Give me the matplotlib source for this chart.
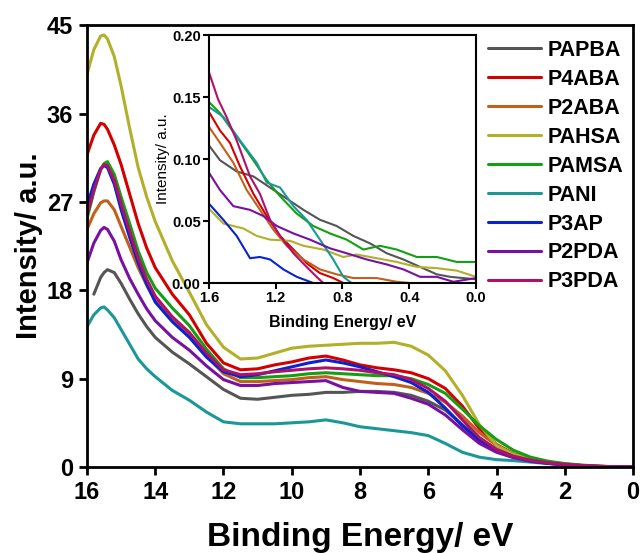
import numpy as np
import matplotlib
matplotlib.use("Agg")
import matplotlib.pyplot as plt

plt.rcParams['font.family'] = ['Liberation Sans', 'DejaVu Sans']

# ---------------- main data ----------------
energy = [16, 15.8, 15.6, 15.5, 15.4, 15.2, 15.0, 14.75, 14.5, 14.25, 14.0, 13.5, 13.0,
          12.5, 12.0, 11.5, 11.0, 10.5, 10.0, 9.5, 9.0, 8.5, 8.0, 7.5, 7.0, 6.5, 6.0,
          5.5, 5.0, 4.5, 4.0, 3.5, 3.0, 2.5, 2.0, 1.5, 1.0, 0.5, 0.0]

papba = [np.nan, 17.6, 19.3, 19.8, 20.1, 19.8, 18.7, 17.1, 15.6, 14.3, 13.2, 11.7, 10.5,
         9.2, 7.9, 7.0, 6.9, 7.1, 7.3, 7.4, 7.6, 7.6, 7.7, 7.7, 7.6, 7.3, 6.7,
         5.8, 4.3, 2.9, 1.8, 1.1, 0.7, 0.45, 0.27, 0.15, 0.07, 0.02, 0.0]
p4aba = [31.8, 33.8, 35.0, 34.9, 34.4, 32.8, 30.8, 27.8, 24.8, 22.3, 20.3, 17.6, 15.5,
         12.6, 10.6, 9.9, 10.0, 10.4, 10.7, 11.1, 11.3, 10.9, 10.4, 10.1, 9.9, 9.6, 9.0,
         8.0, 6.2, 3.9, 2.3, 1.35, 0.8, 0.5, 0.3, 0.15, 0.07, 0.02, 0.0]
p2aba = [24.2, 25.8, 26.9, 27.1, 27.1, 26.2, 24.5, 22.4, 20.3, 18.5, 17.0, 15.0, 13.5,
         11.3, 9.5, 8.7, 8.7, 8.8, 8.9, 9.1, 9.2, 8.9, 8.7, 8.5, 8.4, 8.1, 7.5,
         6.6, 5.2, 3.5, 2.2, 1.3, 0.8, 0.5, 0.3, 0.15, 0.07, 0.02, 0.0]
pahsa = [40.0, 42.5, 43.9, 44.0, 43.6, 41.8, 38.8, 34.5, 30.5, 27.5, 25.0, 21.0, 17.8,
         14.5, 12.2, 11.0, 11.1, 11.6, 12.1, 12.3, 12.4, 12.5, 12.6, 12.6, 12.7, 12.3, 11.4,
         9.8, 7.3, 4.3, 2.2, 1.3, 0.75, 0.45, 0.25, 0.12, 0.06, 0.02, 0.0]
pamsa = [25.3, 28.0, 30.3, 30.9, 31.1, 29.8, 27.5, 24.8, 22.0, 19.8, 18.2, 16.2, 14.4,
         12.0, 10.0, 9.1, 9.1, 9.2, 9.3, 9.5, 9.6, 9.5, 9.4, 9.3, 9.3, 9.0, 8.4,
         7.5, 5.9, 4.2, 2.8, 1.7, 1.0, 0.6, 0.35, 0.2, 0.08, 0.03, 0.01]
pani = [14.3, 15.5, 16.2, 16.3, 16.0, 15.2, 14.0, 12.5, 11.0, 10.0, 9.2, 7.8, 6.8,
        5.6, 4.6, 4.4, 4.4, 4.4, 4.5, 4.6, 4.8, 4.5, 4.1, 3.9, 3.7, 3.5, 3.2,
        2.4, 1.5, 1.0, 0.75, 0.65, 0.5, 0.35, 0.22, 0.12, 0.06, 0.02, 0.0]
p3ap = [26.6, 28.8, 30.4, 30.7, 30.5, 28.8, 26.2, 23.4, 20.8, 18.6, 16.8, 14.8, 13.2,
        11.2, 9.7, 9.2, 9.4, 9.8, 10.2, 10.6, 10.9, 10.6, 10.2, 9.7, 9.2, 8.6, 7.6,
        6.0, 4.2, 2.7, 1.6, 1.0, 0.6, 0.38, 0.22, 0.12, 0.05, 0.01, 0.0]
p2pda = [20.8, 22.8, 24.1, 24.4, 24.2, 23.0, 21.1, 19.2, 17.6, 16.1, 14.9, 13.2, 11.9,
         10.3, 8.9, 8.3, 8.3, 8.5, 8.6, 8.7, 8.8, 8.1, 7.7, 7.6, 7.5, 7.0, 6.4,
         5.3, 3.8, 2.4, 1.5, 0.95, 0.6, 0.38, 0.22, 0.12, 0.05, 0.01, 0.0]
p3pda = [25.6, 28.2, 30.3, 30.8, 30.7, 29.2, 26.8, 24.0, 21.3, 19.1, 17.4, 15.3, 13.7,
         11.6, 9.9, 9.4, 9.5, 9.7, 9.85, 10.0, 10.1, 10.0, 9.85, 9.6, 9.4, 8.9, 8.0,
         6.7, 4.8, 3.0, 1.8, 1.1, 0.7, 0.45, 0.27, 0.15, 0.07, 0.03, 0.01]

labels = ["PAPBA", "P4ABA", "P2ABA", "PAHSA", "PAMSA", "PANI", "P3AP", "P2PDA", "P3PDA"]
colors = ["#555555", "#d40000", "#c0601a", "#b2b02a", "#12a012", "#1a9898", "#0a22d0", "#7810a0", "#b0106c"]
main_series = [papba, p4aba, p2aba, pahsa, pamsa, pani, p3ap, p2pda, p3pda]

# ---------------- inset data (Binding energy, intensity) ----------------
ins_papba_x = [1.6, 1.534, 1.434, 1.334, 1.234, 1.134, 1.034, 0.935, 0.835, 0.735, 0.635, 0.535, 0.435, 0.335, 0.235, 0.155, 0.0]
ins_papba_y = [0.111, 0.099, 0.090, 0.086, 0.077, 0.068, 0.059, 0.051, 0.046, 0.038, 0.032, 0.024, 0.019, 0.013, 0.007, 0.005, 0.003]
ins_p4aba_x = [1.6, 1.534, 1.474, 1.414, 1.334, 1.254, 1.174, 1.094, 1.015, 0.935, 0.855, 0.795]
ins_p4aba_y = [0.138, 0.123, 0.113, 0.094, 0.072, 0.054, 0.038, 0.027, 0.016, 0.008, 0.004, 0.0]
ins_p2aba_x = [1.6, 1.534, 1.454, 1.374, 1.294, 1.214, 1.134, 1.034, 0.935, 0.835, 0.735, 0.595, 0.475, 0.395]
ins_p2aba_y = [0.126, 0.113, 0.097, 0.075, 0.059, 0.043, 0.030, 0.019, 0.011, 0.007, 0.004, 0.004, 0.001, 0.0]
ins_pahsa_x = [1.6, 1.514, 1.394, 1.314, 1.234, 1.114, 1.034, 0.915, 0.795, 0.715, 0.595, 0.475, 0.355, 0.235, 0.115, 0.0]
ins_pahsa_y = [0.060, 0.048, 0.044, 0.038, 0.035, 0.034, 0.030, 0.027, 0.021, 0.023, 0.020, 0.017, 0.013, 0.012, 0.010, 0.005]
ins_pamsa_x = [1.6, 1.534, 1.434, 1.334, 1.254, 1.174, 1.074, 0.975, 0.875, 0.775, 0.675, 0.575, 0.475, 0.355, 0.235, 0.115, 0.0]
ins_pamsa_y = [0.146, 0.137, 0.118, 0.099, 0.083, 0.070, 0.056, 0.046, 0.040, 0.035, 0.027, 0.030, 0.027, 0.021, 0.021, 0.017, 0.017]
ins_pani_x = [1.6, 1.514, 1.414, 1.314, 1.254, 1.174, 1.094, 1.015, 0.935, 0.855, 0.795, 0.745]
ins_pani_y = [0.142, 0.134, 0.115, 0.097, 0.081, 0.077, 0.062, 0.051, 0.035, 0.019, 0.005, 0.0]
ins_p3ap_x = [1.6, 1.514, 1.434, 1.354, 1.295, 1.234, 1.154, 1.074, 0.995, 0.975]
ins_p3ap_y = [0.064, 0.051, 0.038, 0.020, 0.021, 0.019, 0.011, 0.005, 0.001, 0.0]
ins_p2pda_x = [1.6, 1.534, 1.454, 1.354, 1.274, 1.194, 1.094, 0.995, 0.875, 0.775, 0.655, 0.535, 0.435, 0.335, 0.235, 0.135, 0.0]
ins_p2pda_y = [0.089, 0.075, 0.062, 0.059, 0.054, 0.046, 0.040, 0.035, 0.028, 0.024, 0.019, 0.015, 0.011, 0.005, 0.005, 0.001, 0.004]
ins_p3pda_x = [1.6, 1.545, 1.495, 1.434, 1.354, 1.295, 1.234, 1.174, 1.094, 1.015, 0.955, 0.915]
ins_p3pda_y = [0.170, 0.148, 0.134, 0.115, 0.086, 0.072, 0.051, 0.038, 0.024, 0.013, 0.005, 0.0]

inset_series = [(ins_papba_x, ins_papba_y), (ins_p4aba_x, ins_p4aba_y), (ins_p2aba_x, ins_p2aba_y),
                (ins_pahsa_x, ins_pahsa_y), (ins_pamsa_x, ins_pamsa_y), (ins_pani_x, ins_pani_y),
                (ins_p3ap_x, ins_p3ap_y), (ins_p2pda_x, ins_p2pda_y), (ins_p3pda_x, ins_p3pda_y)]

main_xticks = [16, 14, 12, 10, 8, 6, 4, 2, 0]
main_yticks = [0, 9, 18, 27, 36, 45]
inset_xticks = [1.6, 1.2, 0.8, 0.4, 0.0]
inset_yticks = [0.00, 0.05, 0.10, 0.15, 0.20]

# ---------------- figure ----------------
fig = plt.figure(figsize=(6.42, 5.53), dpi=100)
ax = fig.add_axes([0.1355, 0.1555, 0.8505, 0.799])

for ys, lab, c in zip(main_series, labels, colors):
    ax.plot(energy, ys, color=c, lw=2.2, label=lab, solid_capstyle='round')

ax.set_xlim(16, 0)
ax.set_ylim(0, 45)
ax.set_xticks(main_xticks)
ax.set_yticks(main_yticks)
ax.set_xticklabels([str(t) for t in main_xticks], fontsize=17, fontweight='bold')
ax.set_yticklabels([str(t) for t in main_yticks], fontsize=17, fontweight='bold')
ax.tick_params(direction='out', length=6, width=2, pad=4)
for s in ax.spines.values():
    s.set_linewidth(2)
ax.set_xlabel("Binding Energy/ eV", fontsize=24, fontweight='bold', labelpad=13)
ax.set_ylabel("Intensity/ a.u.", fontsize=21, fontweight='bold', labelpad=3)

leg = ax.legend(loc='upper left', bbox_to_anchor=(0.735, 0.967), frameon=False,
                prop={'weight': 'bold', 'size': 15.5}, handlelength=2.45,
                labelspacing=0.37, handletextpad=0.3, borderaxespad=0.0, borderpad=0.0)

# ---------------- inset ----------------
ins = fig.add_axes([0.3255, 0.4882, 0.4159, 0.4485])
for (xs, ys), c in zip(inset_series, colors):
    ins.plot(xs, ys, color=c, lw=1.5)
ins.set_xlim(1.6, 0.0)
ins.set_ylim(0, 0.2)
ins.set_xticks(inset_xticks)
ins.set_yticks(inset_yticks)
ins.set_xticklabels(["%.1f" % t for t in inset_xticks], fontsize=10.5, fontweight='bold')
ins.set_yticklabels(["%.2f" % t for t in inset_yticks], fontsize=10.5, fontweight='bold')
ins.tick_params(direction='out', length=4, width=1.5, pad=2)
for s in ins.spines.values():
    s.set_linewidth(1.5)
ins.set_xlabel("Binding Energy/ eV", fontsize=11.5, fontweight='bold', labelpad=7)
ins.set_ylabel("Intensity/ a.u.", fontsize=11, labelpad=1)

fig.savefig("out.png", dpi=100)
